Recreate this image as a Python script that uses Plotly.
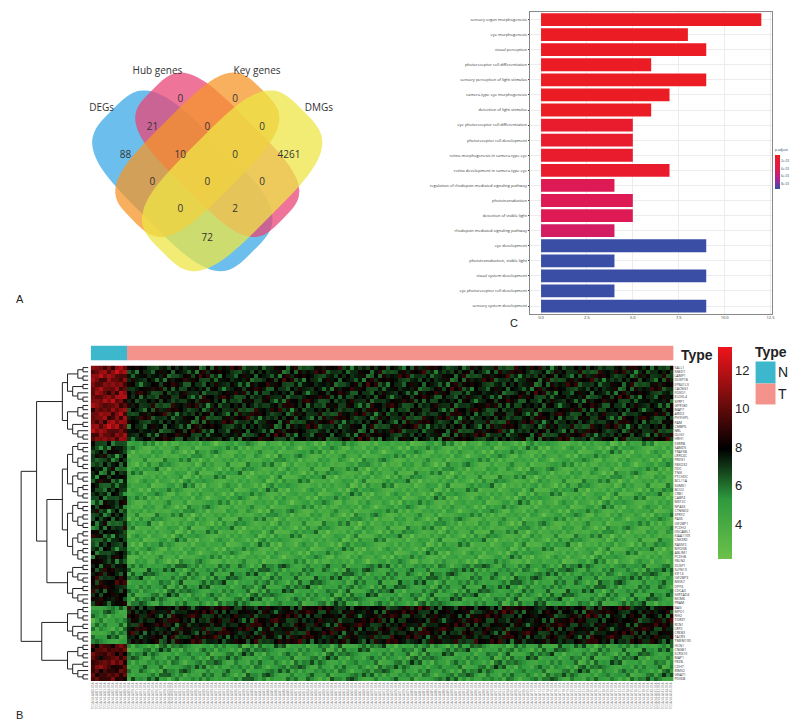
import numpy as np
import plotly.graph_objects as go

# ---- panel A: venn counts ----
venn_sets = ["DEGs", "Hub genes", "Key genes", "DMGs"]
venn_counts = [88, 0, 0, 4261, 21, 0, 0, 0, 10, 0, 0, 0, 0, 2, 72]
venn_regions = ["D", "H", "K", "M", "DH", "HK", "KM", "DK", "DHK", "HKM", "DHKM", "DKM", "DHM", "HM", "DM"]

# ---- panel C: GO enrichment ----
go_terms = [
    "sensory organ morphogenesis", "eye morphogenesis", "visual perception",
    "photoreceptor cell differentiation", "sensory perception of light stimulus",
    "camera-type eye morphogenesis", "detection of light stimulus",
    "eye photoreceptor cell differentiation", "photoreceptor cell development",
    "retina morphogenesis in camera-type eye", "retina development in camera-type eye",
    "regulation of rhodopsin mediated signaling pathway", "phototransduction",
    "detection of visible light", "rhodopsin mediated signaling pathway",
    "eye development", "phototransduction, visible light", "visual system development",
    "eye photoreceptor cell development", "sensory system development",
]
go_counts = [12, 8, 9, 6, 9, 7, 6, 5, 5, 5, 7, 4, 5, 5, 4, 9, 4, 9, 4, 9]
go_padj = [0.0004] * 7 + [0.0012] * 4 + [0.0042] * 3 + [0.0048] + [0.0095] * 5
padj_ticks = [0.002, 0.004, 0.006, 0.008]

# ---- panel B: heatmap ----
genes = [
    "SALL1", "SNED1", "LAMP1", "DUSP1B", "EPB41L3", "CACNG1", "FOXO1", "ELOVL4", "SFRP1", "GPR180",
    "MAP7", "ARID2", "PHYHIPL", "PAM", "CMBP6", "NRL", "OLIG1", "HRH1", "ESRRB", "SAMD5",
    "TRAF3B", "LRRC4C", "PRDX1", "FBXO32", "DDC", "TNIK", "PTCHDC", "BCL11A", "SGMS1", "BCO2",
    "CRB1", "CABP4", "MEF2C", "NPAS3", "CTNND2", "SPRY2", "PAX6", "IGF2BP1", "PCDH2", "DSCAML1",
    "KIAA1109", "CNKSR2", "RASSF2", "MYO5B", "ABLIM1", "PCDH8", "FBLN2", "DUSP1", "SLFN13", "KIF14",
    "IGF2BP3", "MKI67", "DPP4", "CDCA3", "SERTAD4", "MCM6", "PRAM", "BAG", "MPO1", "RHO",
    "TOR3T", "RCN1", "LRP2", "CREB3", "TACR3", "TMEM130", "HCN1", "CNGB1", "SCRG10", "MAP1",
    "FRZB", "CDH7", "RIMS2", "GNAT1", "PDE6B",
]
# row blocks: (number of rows, level in N samples, level in T samples)
row_blocks = [(18, 10.4, 7.4), (29, 7.0, 4.3), (10, 7.8, 5.1), (9, 5.0, 7.7), (9, 9.4, 5.1)]
n_normal = 9
n_tumor = 137
col_offsets = [0.3, -0.6, 0.9, -0.2, 0.5, -1.0, 0.1, 0.7, -0.4, 1.1, -0.8, 0.2,
               -0.1, 0.6, -0.7, 0.4, -0.3, 0.8, -0.5, 0.0, 1.2, -0.9, 0.35, -0.25, 0.55]
row_offsets = [0.2, -0.5, 0.6, -0.1, 0.4, -0.7, 0.0, 0.8, -0.3, 0.3, -0.6]
samples = [f"TCGA-V4-A{k:03d}-01A" for k in range(n_normal + n_tumor)]

z = []
r = 0
for count, lvl_n, lvl_t in row_blocks:
    for _ in range(count):
        row = []
        for j in range(n_normal + n_tumor):
            base = lvl_n if j < n_normal else lvl_t
            off = col_offsets[(j * 7 + r * 3) % len(col_offsets)] + row_offsets[(r + j) % len(row_offsets)]
            row.append(base + off * 1.05)
        z.append(row)
        r += 1
n_rows = r

fig = go.Figure()

# --- heatmap ---
hm_scale = [[0, "#6cc24a"], [0.28, "#2f9a3e"], [0.52, "#000000"], [0.76, "#7a0d0d"], [1, "#f0141c"]]
fig.add_trace(go.Heatmap(
    z=z, x=list(range(n_normal + n_tumor)), y=list(range(n_rows)),
    colorscale=hm_scale, zmin=2.2, zmax=13.25, xaxis="x2", yaxis="y2",
    colorbar=dict(x=0.891, xanchor="left", xpad=0, ypad=0, y=1 - 338 / 726, yanchor="top",
                  len=212 / 726, thickness=14, outlinewidth=0, tickvals=[4, 6, 8, 10, 12], ticks="",
                  tickfont=dict(size=13, family="Liberation Sans", color="#222"))))

# annotation bar (N / T)
types = [0] * n_normal + [1] * n_tumor
fig.add_trace(go.Heatmap(
    z=[types], x=list(range(n_normal + n_tumor)), colorscale=[[0, "#3cb7cc"], [1, "#f4938b"]],
    showscale=False, xaxis="x5", yaxis="y5", hoverinfo="skip"))


# dendrogram, built from the row blocks
def comb(lo, hi, h0):
    if hi - lo == 1:
        return lo, 0.0
    mid = (lo + hi) // 2
    y1, h1 = comb(lo, mid, h0)
    y2, h2 = comb(mid, hi, h0)
    h = max(h1, h2) + h0
    segs.append(([h1, h, h, h2], [y1, y1, y2, y2]))
    return (y1 + y2) / 2, h


def join(a, b, h):
    segs.append(([a[1], h, h, b[1]], [a[0], a[0], b[0], b[0]]))
    return (a[0] + b[0]) / 2, h


segs = []
block_nodes = []
start = 0
for count, _, _ in row_blocks:
    block_nodes.append(comb(start, start + count, 1.0))
    start += count
b12 = join(block_nodes[1], block_nodes[2], 8)
top_a = join(block_nodes[0], b12, 10)
b34 = join(block_nodes[3], block_nodes[4], 9)
join(top_a, b34, 13)
dx, dy = [], []
for sx, sy in segs:
    dx += sx + [None]
    dy += sy + [None]
fig.add_trace(go.Scatter(x=dx, y=dy, mode="lines", line=dict(color="#222", width=1),
                         xaxis="x4", yaxis="y2", hoverinfo="skip", showlegend=False))

# --- GO bar chart --- (colour by -p.adjust so red/low sits on top of the colour bar)
fig.add_trace(go.Bar(
    x=go_counts, y=go_terms, orientation="h", xaxis="x", yaxis="y",
    marker=dict(color=[-p for p in go_padj],
                colorscale=[[0, "#3a4ea6"], [0.3, "#b0228f"], [0.6, "#e01a4f"], [1, "#ec1c24"]],
                cmin=-0.0095, cmax=-0.0004, line=dict(width=0),
                colorbar=dict(x=0.962, xanchor="left", xpad=0, ypad=0, y=0.812, yanchor="top", len=0.06,
                              thickness=5, outlinewidth=0,
                              title=dict(text="p.adjust", side="top", font=dict(size=3.5)),
                              tickvals=[-p for p in padj_ticks],
                              ticktext=[f"{p:.0e}" for p in padj_ticks], tickfont=dict(size=3))),
    width=0.85, showlegend=False))


# --- Venn ---
def ellipse_path(cx, cy, a, b, ang):
    t = np.linspace(0, 2 * np.pi, 90)
    ct, st = np.cos(t), np.sin(t)
    xs = a * np.sign(ct) * np.abs(ct) ** 0.55
    ys = b * np.sign(st) * np.abs(st) ** 0.55
    ca, sa = np.cos(np.radians(ang)), np.sin(np.radians(ang))
    px = cx + xs * ca - ys * sa
    py = cy + xs * sa + ys * ca
    return "M " + " L ".join(f"{u:.1f},{v:.1f}" for u, v in zip(px, py)) + " Z"


venn_shapes = [
    (175, 172, 100, 52, 45, "rgba(59,170,230,0.75)"),
    (210, 146, 92, 46, 45, "rgba(232,70,120,0.75)"),
    (190, 146, 92, 46, -45, "rgba(245,150,40,0.75)"),
    (225, 172, 100, 52, -45, "rgba(238,230,70,0.75)"),
]
shapes = []
for cx, cy, a, b, ang, col in venn_shapes:
    shapes.append(dict(type="path", path=ellipse_path(cx, cy, a, b, ang), xref="x3", yref="y3",
                       fillcolor=col, line=dict(width=0), layer="below"))

region_pos = {"D": (118, 147), "H": (173, 91), "K": (228, 91), "M": (282, 147), "DH": (145, 119),
              "HK": (200, 119), "KM": (255, 119), "DHK": (173, 147), "HKM": (228, 147),
              "DK": (145, 174), "DHKM": (200, 174), "DKM": (255, 174), "DHM": (173, 201),
              "HM": (228, 201), "DM": (200, 230)}
vx = [region_pos[k][0] for k in venn_regions]
vy = [region_pos[k][1] for k in venn_regions]
fig.add_trace(go.Scatter(x=vx, y=vy, text=[str(c) for c in venn_counts], mode="text",
                         textfont=dict(size=10, family="Open Sans", color="#333"),
                         xaxis="x3", yaxis="y3", hoverinfo="skip", showlegend=False))
set_pos = [(94, 100), (150, 63), (250, 63), (312, 100)]
fig.add_trace(go.Scatter(x=[p[0] for p in set_pos], y=[p[1] for p in set_pos], text=venn_sets,
                         mode="text", textfont=dict(size=10, family="Open Sans", color="#333"),
                         xaxis="x3", yaxis="y3", hoverinfo="skip", showlegend=False))

# type legend
shapes += [
    dict(type="rect", xref="paper", yref="paper", x0=0.938, x1=0.963, y0=1 - 375 / 726, y1=1 - 353 / 726,
         fillcolor="#3cb7cc", line=dict(width=0)),
    dict(type="rect", xref="paper", yref="paper", x0=0.938, x1=0.963, y0=1 - 396 / 726, y1=1 - 375 / 726,
         fillcolor="#f4938b", line=dict(width=0)),
]
ann_font = dict(family="Liberation Sans", color="#222")
annotations = [
    dict(text="<b>Type</b>", x=0.842, y=1 - 336 / 726, xref="paper", yref="paper", xanchor="left",
         yanchor="top", showarrow=False, font=dict(size=14, **ann_font)),
    dict(text="<b>Type</b>", x=0.935, y=1 - 333 / 726, xref="paper", yref="paper", xanchor="left",
         yanchor="top", showarrow=False, font=dict(size=14, **ann_font)),
    dict(text="N", x=0.963, y=1 - 364 / 726, xref="paper", yref="paper", xanchor="left", showarrow=False,
         font=dict(size=14, **ann_font)),
    dict(text="T", x=0.963, y=1 - 386 / 726, xref="paper", yref="paper", xanchor="left", showarrow=False,
         font=dict(size=14, **ann_font)),
    dict(text="A", x=0.008, y=1 - 290 / 726, xref="paper", yref="paper", xanchor="left", showarrow=False,
         font=dict(size=11, **ann_font)),
    dict(text="B", x=0.008, y=1 - 715 / 726, xref="paper", yref="paper", xanchor="left", showarrow=False,
         font=dict(size=11, **ann_font)),
    dict(text="C", x=0.627, y=1 - 314 / 726, xref="paper", yref="paper", xanchor="left", showarrow=False,
         font=dict(size=11, **ann_font)),
]

tiny = dict(size=4, color="#333")
fig.update_layout(
    width=800, height=726, margin=dict(l=0, r=0, t=0, b=0), plot_bgcolor="white", paper_bgcolor="white",
    shapes=shapes, annotations=annotations, showlegend=False,
    xaxis=dict(domain=[0.655, 0.959], range=[-0.6, 12.6], tickvals=[0, 2.5, 5, 7.5, 10, 12.5],
               ticktext=["0.0", "2.5", "5.0", "7.5", "10.0", "12.5"], tickfont=tiny, showgrid=True,
               gridcolor="#ececec", mirror=True, showline=True, linecolor="#888", linewidth=0.6,
               zeroline=False, anchor="y"),
    yaxis=dict(domain=[1 - 305 / 726, 1 - 3 / 726], autorange="reversed", tickfont=tiny,
               showgrid=True, gridcolor="#ececec", mirror=True, showline=True, linecolor="#888",
               linewidth=0.6, ticks="outside", ticklen=1.5, anchor="x"),
    xaxis2=dict(domain=[83 / 800, 668 / 800], range=[-0.5, n_normal + n_tumor - 0.5],
                tickvals=list(range(n_normal + n_tumor)), ticktext=samples, tickangle=-90,
                tickfont=dict(size=3, color="#777"), showgrid=False, zeroline=False, anchor="y2"),
    yaxis2=dict(domain=[1 - 673 / 726, 1 - 357 / 726], range=[n_rows - 0.5, -0.5], side="right",
                tickvals=list(range(n_rows)), ticktext=genes[:n_rows], tickfont=dict(size=3.5, color="#333"),
                showgrid=False, zeroline=False, anchor="x2"),
    xaxis3=dict(domain=[80 / 800, 380 / 800], range=[80, 380], visible=False, anchor="y3"),
    yaxis3=dict(domain=[1 - 300 / 726, 1 - 30 / 726], range=[300, 30], visible=False, anchor="x3"),
    xaxis4=dict(domain=[8 / 800, 82 / 800], range=[14, -0.3], visible=False, anchor="y2"),
    xaxis5=dict(domain=[83 / 800, 668 / 800], range=[-0.5, n_normal + n_tumor - 0.5], visible=False,
                anchor="y5"),
    yaxis5=dict(domain=[1 - 352 / 726, 1 - 337 / 726], visible=False, anchor="x5"),
)

fig.write_html("out.html")
